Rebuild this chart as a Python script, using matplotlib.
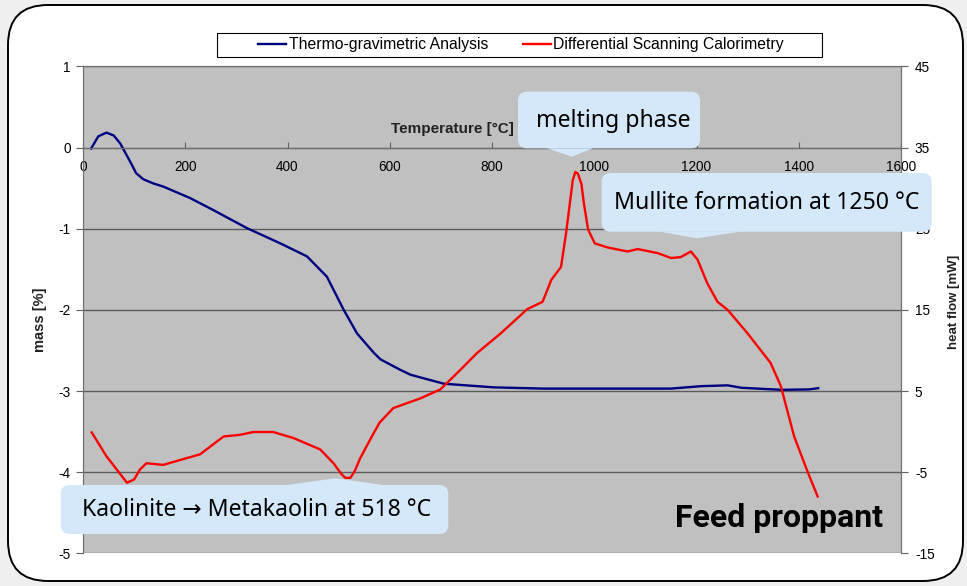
import matplotlib
matplotlib.use('Agg')
import matplotlib.pyplot as plt
import matplotlib.transforms as mtransforms
from matplotlib.patches import FancyBboxPatch, Polygon, Rectangle
import numpy as np

plt.rcParams['font.family'] = ['Liberation Sans', 'DejaVu Sans']
plt.rcParams['axes.unicode_minus'] = False

# TGA: temperature [°C] vs mass [%]
tga_temp = [16, 30, 46, 60, 73, 92, 104, 118, 137, 157, 209, 255, 320, 386,
            438, 477, 510, 536, 569, 582, 621, 641, 706, 804, 900, 1052, 1150,
            1209, 1261, 1288, 1366, 1420, 1438]
tga_mass = [-0.01, 0.14, 0.185, 0.15, 0.05, -0.17, -0.315, -0.39, -0.44, -0.48,
            -0.62, -0.77, -0.99, -1.18, -1.34, -1.59, -2.0, -2.29, -2.53, -2.61,
            -2.74, -2.80, -2.91, -2.955, -2.97, -2.97, -2.97, -2.94, -2.93,
            -2.96, -2.985, -2.98, -2.965]

# DSC: temperature [°C] vs heat flow [mW]
dsc_temp = [17, 46, 86, 100, 111, 124, 157, 190, 229, 254, 275, 307, 333, 372,
            412, 464, 490, 505, 513, 523, 532, 542, 565, 580, 607, 660, 699,
            738, 771, 817, 869, 899, 916, 935, 945, 958, 963, 968, 975, 980,
            988, 1001, 1026, 1065, 1085, 1124, 1150, 1169, 1189, 1202, 1221,
            1241, 1261, 1300, 1345, 1365, 1391, 1417, 1437]
dsc_flow = [-0.1, -3.05, -6.3, -5.9, -4.7, -3.9, -4.1, -3.5, -2.8, -1.6, -0.6,
            -0.4, -0.05, -0.05, -0.8, -2.2, -3.9, -5.2, -5.7, -5.7, -4.8, -3.3,
            -0.6, 1.1, 2.9, 4.1, 5.2, 7.6, 9.7, 12.1, 15.1, 16.0, 18.7, 20.3,
            24.5, 31.0, 32.0, 31.8, 30.5, 28.0, 24.9, 23.2, 22.7, 22.2, 22.5,
            22.0, 21.4, 21.5, 22.2, 21.2, 18.3, 16.0, 15.0, 12.1, 8.45, 5.6,
            -0.6, -4.9, -8.0]

x_ticks = [0, 200, 400, 600, 800, 1000, 1200, 1400, 1600]
mass_ticks = [1, 0, -1, -2, -3, -4, -5]
flow_ticks = [45, 35, 25, 15, 5, -5, -15]

W, H = 967, 586
fig = plt.figure(figsize=(W / 100, H / 100), dpi=100, facecolor='#efefef')

# pixel coords (from top-left) -> display
pix = mtransforms.Affine2D().scale(1 / 100, -1 / 100).translate(0, H / 100) + fig.dpi_scale_trans

frame = FancyBboxPatch((8, 5), 955, 576, boxstyle='round,pad=0,rounding_size=40',
                       transform=pix, facecolor='white', edgecolor='black', lw=1.4, zorder=0)
fig.add_artist(frame)

ax = fig.add_axes([83 / W, 1 - 553.3 / H, 818 / W, 486.8 / H])
ax.set_facecolor('#c0c0c0')
ax.plot(tga_temp, tga_mass, color='#000080', lw=1.7, label='Thermo-gravimetric Analysis')
ax.set_xlim(0, 1600)
ax.set_ylim(-5, 1)
ax.set_yticks(mass_ticks)
ax.set_xticks(x_ticks)
ax.grid(axis='y', color='#5c5c5c', lw=1)
ax.set_axisbelow(True)
ax.spines['bottom'].set_position(('data', 0))
for s in ax.spines.values():
    s.set_color('#707070')
ax.tick_params(axis='x', direction='in', length=4, pad=9, labelsize=9.8, color='#606060')
ax.tick_params(axis='y', direction='out', length=5, pad=4, labelsize=9.8, color='#606060')
ax.set_xlabel('Temperature [°C]', fontsize=11, fontweight='bold', color='#222222')
ax.xaxis.set_label_coords(0.452, 0.886)
ax.set_ylabel('mass [%]', fontsize=10.5, fontweight='bold', color='#222222')
ax.yaxis.set_label_coords(-0.044, 0.479)

ax2 = ax.twinx()
ax2.plot(dsc_temp, dsc_flow, color='#ff0000', lw=1.7, label='Differential Scanning Calorimetry')
ax2.set_ylim(-15, 45)
ax2.set_yticks(flow_ticks)
for s in ax2.spines.values():
    s.set_color('#707070')
ax2.spines['bottom'].set_visible(False)
ax2.tick_params(axis='y', direction='out', length=5, pad=5, labelsize=9.8, color='#606060')
ax2.set_ylabel('heat flow [mW]', fontsize=9.5, fontweight='bold', rotation=90, color='#222222')
ax2.yaxis.set_label_coords(1.058, 0.517)

# legend box drawn by hand, entries centred inside it
fig.add_artist(Rectangle((217, 33), 605, 24, transform=pix, facecolor='white',
                         edgecolor='black', lw=0.8, zorder=4))
h1, l1 = ax.get_legend_handles_labels()
h2, l2 = ax2.get_legend_handles_labels()
leg = fig.legend(h1 + h2, l1 + l2, loc='center', bbox_to_anchor=(521 / W, 1 - 45 / H),
                 ncol=2, fontsize=11.3, frameon=False, borderpad=0,
                 handlelength=1.8, handletextpad=0.15, columnspacing=2.2, borderaxespad=0)
leg.set_zorder(5)


def callout(box, tip, base, text, cx=None):
    x0, y0, x1, y1 = box
    color = '#d5e8fa'
    fig.add_artist(FancyBboxPatch((x0, y0), x1 - x0, y1 - y0,
                                  boxstyle='round,pad=0,rounding_size=9',
                                  transform=pix, facecolor=color, edgecolor='none', zorder=5))
    by = y1 if tip[1] > y1 else y0
    fig.add_artist(Polygon([(base[0], by), tip, (base[1], by)], closed=True,
                           transform=pix, facecolor=color, edgecolor='none', zorder=5))
    if cx is None:
        cx = (x0 + x1) / 2
    fig.text(cx, (y0 + y1) / 2 + 1, text, transform=pix, ha='center', va='center',
             fontsize=16.6, family=['Noto Sans', 'DejaVu Sans'], color='black', zorder=6)


callout((518, 91.7, 700, 148.3), (571.7, 156.7), (547, 593), 'melting phase', cx=613)
callout((601.7, 173, 931.7, 231.7), (696.7, 238.3), (660, 740), 'Mullite formation at 1250 °C')
callout((60.7, 485, 448.3, 534), (335, 478.3), (287, 383), 'Kaolinite \u2192 Metakaolin at 518 °C', cx=257)

fig.text(779, 526.7, 'Feed proppant', transform=pix, ha='center', va='baseline',
         fontsize=23, fontweight='bold', family=['Roboto', 'DejaVu Sans'], zorder=6)

fig.savefig('out.png', dpi=100, facecolor=fig.get_facecolor())
